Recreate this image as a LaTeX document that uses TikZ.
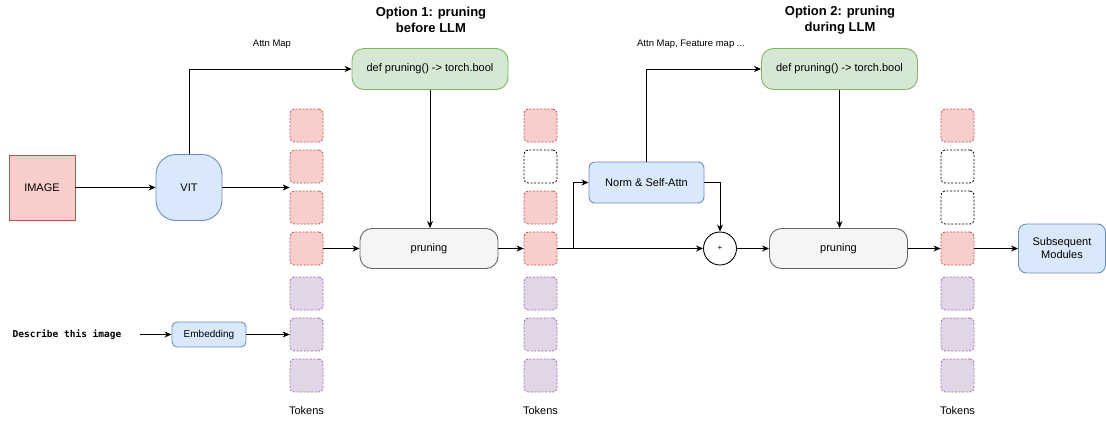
\documentclass[tikz,border=0pt]{standalone}
\usepackage{fontspec}
\setmainfont{Liberation Sans}
\newfontfamily\codefont{DejaVu Sans Mono}
\usetikzlibrary{arrows.meta}
\definecolor{redfill}{HTML}{F8CECC}
\definecolor{redline}{HTML}{B85450}
\definecolor{bluefill}{HTML}{DAE8FC}
\definecolor{blueline}{HTML}{6C8EBF}
\definecolor{greenfill}{HTML}{D5E8D4}
\definecolor{greenline}{HTML}{82B366}
\definecolor{purplefill}{HTML}{E1D5E7}
\definecolor{purpleline}{HTML}{9673A6}
\definecolor{grayfill}{HTML}{F5F5F5}
\definecolor{grayline}{HTML}{666666}
\tikzset{
  box/.style={draw, line width=0.9pt, inner sep=0pt, align=center, font=\fontsize{11}{13}\selectfont},
  bluebox/.style={box, fill=bluefill, draw=blueline},
  greenbox/.style={box, fill=greenfill, draw=greenline, minimum width=156pt, minimum height=41pt, rounded corners=12pt},
  graybox/.style={box, fill=grayfill, draw=grayline, minimum width=138pt, minimum height=40pt, rounded corners=12pt},
  token/.style={draw, line width=0.8pt, minimum size=33pt, inner sep=0pt, rounded corners=4pt, dash pattern=on 2pt off 1.6pt},
  redtok/.style={token, fill=redfill, draw=redline},
  purtok/.style={token, fill=purplefill, draw=purpleline},
  emptytok/.style={token, fill=white, draw=black},
  arr/.style={line width=0.9pt, -{Stealth[length=7pt,width=6pt,inset=2.2pt]}},
  plainline/.style={line width=0.9pt},
  title/.style={font=\bfseries\fontsize{13}{15.5}\selectfont, align=center},
  smalllabel/.style={font=\fontsize{9.5}{11}\selectfont},
  toklabel/.style={font=\fontsize{11}{13}\selectfont},
}
\begin{document}
\begin{tikzpicture}[x=1pt, y=-1pt]
\useasboundingbox (0,0) rectangle (1106,421);

% inputs and encoders
\node[box, fill=redfill, draw=redline, minimum width=66pt, minimum height=65pt] (img) at (42,187.5) {IMAGE};
\node[bluebox, minimum width=66pt, minimum height=66pt, rounded corners=20pt] (vit) at (189,187.5) {VIT};
\node[font=\codefont\bfseries\fontsize{9.5}{11}\selectfont, inner sep=0pt] (desc) at (67,334.5) {Describe this image};
\coordinate (descout) at (140,334.5);
\node[bluebox, minimum width=74pt, minimum height=25pt, rounded corners=5pt, font=\fontsize{10}{12}\selectfont] (emb) at (209,334.5) {Embedding};

% token columns
\foreach \col/\x in {1/306.5, 2/540.5, 3/957.5}{
  \foreach \i/\y in {5/293.5, 6/334.5, 7/375.5}{
    \node[purtok] (t\col\i) at (\x,\y) {};
  }
  \node[redtok] (t\col4) at (\x,248.5) {};
  \node[redtok] (t\col1) at (\x,125.5) {};
  \node[toklabel] (lab\col) at (\x,411) {Tokens};
}
\node[redtok] (t12) at (306.5,166.5) {};
\node[redtok] (t13) at (306.5,207.5) {};
\node[emptytok] (t22) at (540.5,166.5) {};
\node[redtok] (t23) at (540.5,207.5) {};
\node[emptytok] (t32) at (957.5,166.5) {};
\node[emptytok] (t33) at (957.5,207.5) {};

% option 1
\node[title] (title1) at (431,20) {Option 1: pruning\\before LLM};
\node[greenbox] (g1) at (430,69) {def pruning() -> torch.bool};
\node[smalllabel] (attn1) at (272,44) {Attn Map};
\node[graybox] (p1) at (429,248.5) {pruning};

% option 2
\node[title] (title2) at (840,20) {Option 2: pruning\\during LLM};
\node[greenbox] (g2) at (839.5,69) {def pruning() -> torch.bool};
\node[smalllabel] (attn2) at (691,44) {Attn Map, Feature map ...};
\node[graybox] (p2) at (838.5,248.5) {pruning};
\node[bluebox, minimum width=115pt, minimum height=41pt, rounded corners=6pt] (norm) at (646.5,182.5) {Norm \& Self-Attn};
\node[draw, circle, line width=0.9pt, minimum size=33pt, inner sep=0pt, fill=white, font=\fontsize{8}{9}\selectfont] (plus) at (720,248.5) {+};
\coordinate (split) at (573,248.5);
\node[bluebox, minimum width=87pt, minimum height=49pt, rounded corners=8pt] (sub) at (1062,248.5) {Subsequent\\Modules};

% connectors
\draw[arr] (img) -- (vit);
\draw[arr] (vit) -- (vit -| t12.west);
\draw[arr] (descout) -- (emb);
\draw[arr] (emb) -- (t16.west);
\draw[arr] (vit.north) |- (g1.west);
\draw[arr] (g1.south) -- (g1.south |- p1.north);
\draw[arr] (t14.east) -- (p1.west);
\draw[arr] (p1.east) -- (t24.west);
\draw[plainline] (t24.east) -- (split);
\draw[arr] (split) |- (norm.west);
\draw[arr] (split) -- (plus.west);
\draw[arr] (norm.east) -| (plus.north);
\draw[arr] (norm.north) |- (g2.west);
\draw[arr] (g2.south) -- (g2.south |- p2.north);
\draw[arr] (plus.east) -- (p2.west);
\draw[arr] (p2.east) -- (t34.west);
\draw[arr] (t34.east) -- (sub.west);
\end{tikzpicture}
\end{document}
